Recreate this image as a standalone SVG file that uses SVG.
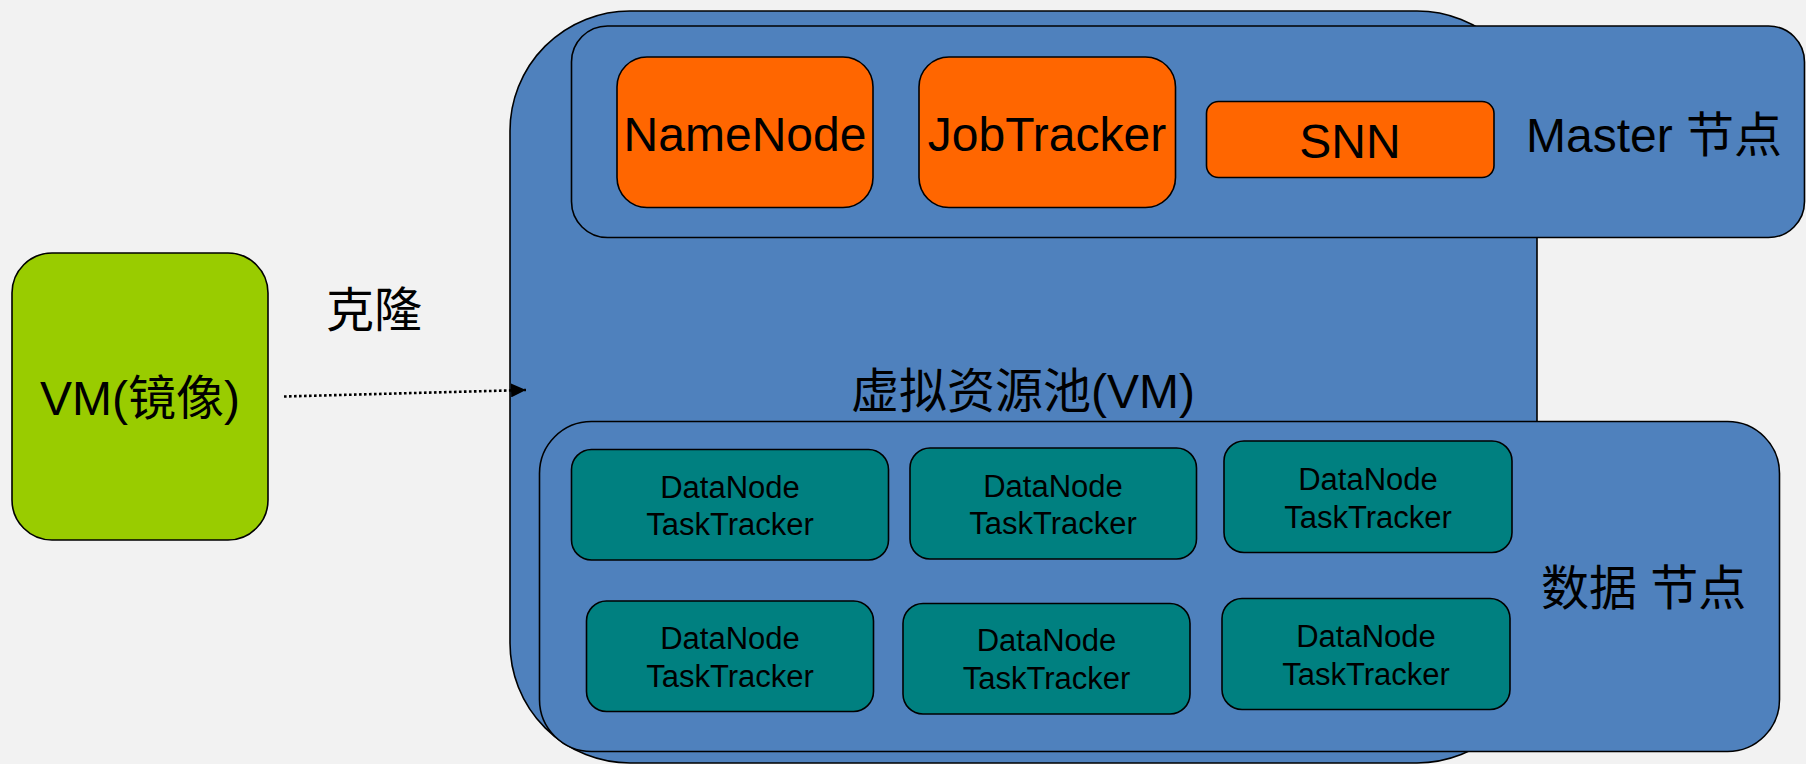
<svg xmlns="http://www.w3.org/2000/svg" width="1806" height="764" viewBox="0 0 1806 764">
  <defs>
    <style>
      .pool { fill: #4F81BD; stroke: #000; stroke-width: 1.6; }
      .master { fill: #FF6600; stroke: #000; stroke-width: 1.6; }
      .data { fill: #008080; stroke: #000; stroke-width: 1.6; }
      .image { fill: #99CC00; stroke: #000; stroke-width: 1.6; }
      .big { font-family: "Liberation Sans", "Noto Sans CJK SC", Arial, sans-serif; font-size: 48px; fill: #000; }
      .small { font-family: "Liberation Sans", "Noto Sans CJK SC", Arial, sans-serif; font-size: 31px; fill: #000; text-anchor: middle; }
      .mid { text-anchor: middle; }
      .clone-line { fill: none; stroke: #000; stroke-width: 2.6; stroke-dasharray: 2.6 2.4; }
    </style>
    <marker id="arrow" markerWidth="16" markerHeight="14" refX="15" refY="7" orient="auto" markerUnits="userSpaceOnUse">
      <path d="M0,0 L15,7 L0,14 Z" fill="#000"/>
    </marker>
  </defs>

  <!-- page background -->
  <rect x="0" y="0" width="1806" height="764" fill="#F2F2F2"/>

  <!-- virtual resource pool -->
  <g id="pool">
    <rect class="pool" x="510" y="11" width="1027" height="752" rx="120" ry="120"/>
    <text class="big mid" x="1023" y="408" font-size="46">虚拟资源池(VM)</text>
  </g>

  <!-- master node group -->
  <g id="master-group">
    <rect class="pool" x="571.5" y="26" width="1233" height="211.5" rx="36" ry="36"/>
    <text class="big" x="1526" y="152">Master 节点</text>
  </g>

  <g id="namenode">
    <rect class="master" x="617" y="57" width="256" height="150.5" rx="30" ry="30"/>
    <text class="big mid" x="745" y="151">NameNode</text>
  </g>

  <g id="jobtracker">
    <rect class="master" x="919" y="57" width="256.5" height="150.5" rx="30" ry="30"/>
    <text class="big mid" x="1047" y="151">JobTracker</text>
  </g>

  <g id="snn">
    <rect class="master" x="1206.5" y="101.5" width="287.5" height="76" rx="12" ry="12"/>
    <text class="big mid" x="1350" y="158">SNN</text>
  </g>

  <!-- data node group -->
  <g id="data-group">
    <rect class="pool" x="539.5" y="421.5" width="1240" height="330" rx="52" ry="52"/>
    <text class="big" x="1541" y="605">数据 节点</text>
  </g>

  <g id="dn1">
    <rect class="data" x="571.5" y="449.5" width="317" height="110.5" rx="20" ry="20"/>
    <text class="small" x="730" y="497.5">DataNode</text>
    <text class="small" x="730" y="535">TaskTracker</text>
  </g>

  <g id="dn2">
    <rect class="data" x="910" y="448" width="286.5" height="111" rx="20" ry="20"/>
    <text class="small" x="1053" y="496.5">DataNode</text>
    <text class="small" x="1053" y="534">TaskTracker</text>
  </g>

  <g id="dn3">
    <rect class="data" x="1224" y="441" width="288" height="111.5" rx="20" ry="20"/>
    <text class="small" x="1368" y="490">DataNode</text>
    <text class="small" x="1368" y="527.5">TaskTracker</text>
  </g>

  <g id="dn4">
    <rect class="data" x="586.5" y="601" width="287" height="110.5" rx="20" ry="20"/>
    <text class="small" x="730" y="648.5">DataNode</text>
    <text class="small" x="730" y="686.5">TaskTracker</text>
  </g>

  <g id="dn5">
    <rect class="data" x="903" y="603.5" width="287" height="110.5" rx="20" ry="20"/>
    <text class="small" x="1046.5" y="651">DataNode</text>
    <text class="small" x="1046.5" y="689">TaskTracker</text>
  </g>

  <g id="dn6">
    <rect class="data" x="1222" y="598.5" width="288" height="111" rx="20" ry="20"/>
    <text class="small" x="1366" y="646.5">DataNode</text>
    <text class="small" x="1366" y="685">TaskTracker</text>
  </g>

  <!-- VM image -->
  <g id="vm-image">
    <rect class="image" x="12" y="253" width="256" height="287" rx="40" ry="40"/>
    <text class="big mid" x="140" y="415">VM(镜像)</text>
  </g>

  <!-- clone connector -->
  <g id="connectors">
    <line class="clone-line" x1="284" y1="396.5" x2="526" y2="390" marker-end="url(#arrow)"/>
    <text class="big" x="326" y="327">克隆</text>
  </g>
</svg>
